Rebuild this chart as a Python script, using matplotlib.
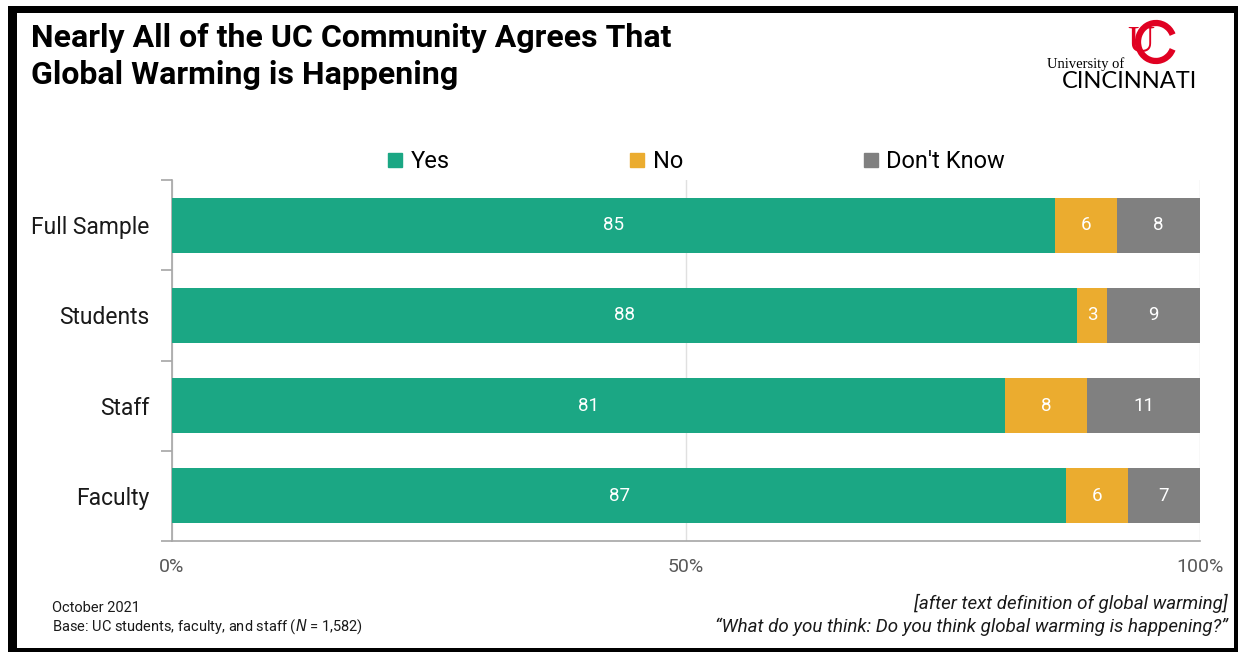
import numpy as np
import matplotlib.pyplot as plt
from matplotlib.patches import Rectangle, Arc
from matplotlib.lines import Line2D

plt.rcParams['font.family'] = ['Roboto', 'DejaVu Sans']

# Survey shares (%), as labelled on each segment
groups = ['Full Sample', 'Students', 'Staff', 'Faculty']
yes = [85, 88, 81, 87]
no = [6, 3, 8, 6]
dont_know = [8, 9, 11, 7]
series_names = ['Yes', 'No', "Don't Know"]
x_ticks = [0, 50, 100]
x_tick_labels = ['0%', '50%', '100%']

colors = ['#1BA784', '#EBAC2F', '#808080']
uc_red = '#E00122'

W, H = 1238, 652
fig = plt.figure(figsize=(W / 100, H / 100), dpi=100)
fig.patch.set_facecolor('white')


def fx(x):
    return x / W


def fy(y):
    return 1 - y / H


# black frame, heavier on the left and top
for (x0, y0, x1, y1) in [(8, 6, 17, H), (8, 6, W, 13), (1234, 6, W, H), (8, 648, W, H)]:
    fig.add_artist(Rectangle((fx(x0), fy(y1)), fx(x1) - fx(x0), fy(y0) - fy(y1),
                             transform=fig.transFigure, color='black', lw=0, zorder=10))

ax = fig.add_axes([fx(172), fy(541), fx(1200) - fx(172), fy(180) - fy(541)])

vals = np.array([yes, no, dont_know], dtype=float)
shares = vals / vals.sum(axis=0) * 100
ypos = np.arange(len(groups))
left = np.zeros(len(groups))
for i, name in enumerate(series_names):
    ax.barh(ypos, shares[i], left=left, height=0.61, color=colors[i], label=name, zorder=3)
    for y, l, s, v in zip(ypos, left, shares[i], vals[i]):
        ax.text(l + s / 2, y, f'{v:.0f}', ha='center', va='center', color='white',
                fontsize=13.5, zorder=4)
    left += shares[i]

ax.set_xlim(0, 100)
ax.set_ylim(len(groups) - 0.5, -0.5)
ax.set_yticks(ypos)
ax.set_yticklabels(groups, fontsize=16.5, color='#1a1a1a')
ax.set_yticks(np.arange(len(groups) + 1) - 0.5, minor=True)
ax.tick_params(axis='y', which='major', length=0, pad=16)
ax.tick_params(axis='y', which='minor', length=8, color='#A6A6A6', width=1.2)
ax.set_xticks(x_ticks)
ax.set_xticklabels(x_tick_labels, fontsize=14, color='#595959')
ax.tick_params(axis='x', length=0, pad=12)
ax.grid(axis='x', color='#E0E0E0', lw=1, zorder=0)

for side in ['top', 'right']:
    ax.spines[side].set_visible(False)
for side in ['left', 'bottom']:
    ax.spines[side].set_color('#A6A6A6')
    ax.spines[side].set_linewidth(1.2)

handles = [Line2D([], [], marker='s', ls='', color=c, markersize=10.5) for c in colors]
fig.legend(handles, series_names, loc='center left', bbox_to_anchor=(fx(387), fy(162)),
           ncol=3, frameon=False, fontsize=17, handlelength=0.7, handletextpad=0.3,
           columnspacing=7.6, borderaxespad=0, borderpad=0)

fig.text(fx(31), fy(47), 'Nearly All of the UC Community Agrees That',
         fontsize=23, fontweight='bold', va='baseline', ha='left')
fig.text(fx(31), fy(84), 'Global Warming is Happening',
         fontsize=23, fontweight='bold', va='baseline', ha='left')

# University of Cincinnati wordmark
fig.text(fx(1047), fy(68), 'University of', family='Liberation Serif', fontsize=10.5,
         ha='left', va='baseline')
fig.text(fx(1062), fy(88), 'CINCINNATI', family='Lato', fontsize=17,
         ha='left', va='baseline')
fig.text(fx(1127), fy(52), 'U', family='Liberation Serif', fontsize=27, color=uc_red,
         ha='left', va='baseline')
fig.add_artist(Arc((fx(1156), fy(42)), 36 / W, 38 / H, theta1=40, theta2=320,
                   transform=fig.transFigure, color=uc_red, lw=4.5))

fig.text(fx(52), fy(612), 'October 2021', fontsize=10.5, va='baseline', color='#1a1a1a')
fig.text(fx(52), fy(631), 'Base: UC students, faculty, and staff ($\\mathit{N}$ = 1,582)',
         fontsize=10.5, va='baseline', color='#1a1a1a')
fig.text(fx(1228), fy(609), '[after text definition of global warming]', fontsize=13.5,
         style='italic', ha='right', va='baseline', color='#1a1a1a')
fig.text(fx(1228), fy(632), '\u201cWhat do you think: Do you think global warming is happening?\u201d',
         fontsize=13.5, style='italic', ha='right', va='baseline', color='#1a1a1a')

fig.savefig('out.png', dpi=100, facecolor='white')
